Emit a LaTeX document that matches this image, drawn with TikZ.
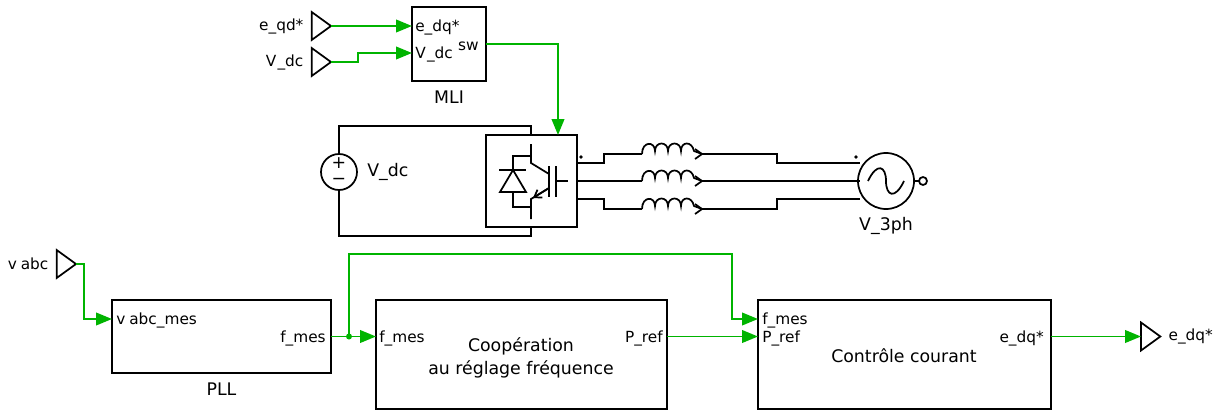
\documentclass[tikz,border=0pt]{standalone}
\usepackage{fontspec}
\setmainfont{DejaVu Sans}
\usepackage{tikz}
\usetikzlibrary{shapes,arrows.meta,positioning,calc}
\definecolor{wiregreen}{RGB}{0,180,0}
\tikzset{
    block/.style={draw,line width=1.3pt,outer sep=0pt,inner sep=0pt},
    gotag/.style={draw,line width=1.3pt,isosceles triangle,isosceles triangle stretches,shape border rotate=0,minimum width=21pt,minimum height=14.5pt,inner sep=0pt,outer sep=0pt},
    port/.style={font=\fontsize{11.5}{13}\selectfont,inner sep=0pt},
    caption/.style={font=\fontsize{13}{17.2}\selectfont,inner sep=0pt,align=center},
    sig/.style={draw=wiregreen,line width=1.4pt},
    sigarrow/.style={sig,-{Stealth[length=12pt,width=9.5pt,inset=0pt]}},
    power/.style={draw,line width=1.3pt},
}
\begin{document}
\begin{tikzpicture}[x=0.75pt,y=-0.75pt,node distance=6pt]
    \useasboundingbox (0,0) rectangle (1217,410);

    % MLI
    \node[block,minimum width=55.5pt,minimum height=55.5pt,anchor=north west] (mli) at (412,7) {};
    \node[gotag,anchor=apex] (eqd) at (331,26) {};
    \node[gotag,anchor=apex] (vdcin) at (331,62) {};
    \node[port,left=of eqd.west] (eqdlabel) {e\_qd*};
    \node[port,left=of vdcin.west] (vdclabel) {V\kern1pt\_dc};
    \coordinate (mlia) at (412,26);
    \coordinate (mlib) at (412,53);
    \coordinate (mlisw) at (486,44);
    \node[port,anchor=west] (mlialabel) at (415,27) {e\_dq*};
    \node[port,anchor=west] (mliblabel) at (415,54) {V\kern1pt\_dc};
    \node[port,anchor=east] (mliswlabel) at (479,46) {sw};
    \node[caption,below=7pt of mli] (mlilabel) {MLI};

    % Onduleur
    \node[block,minimum width=68.25pt,minimum height=69pt,anchor=north west] (inv) at (486,135) {};
    \node[circle,draw,line width=1.3pt,minimum size=27pt,inner sep=0pt,outer sep=0pt] (vsrc) at (339,172) {};
    \node[font=\fontsize{13}{14}\selectfont,inner sep=0pt] (plus) at (339,163) {+};
    \node[font=\fontsize{13}{14}\selectfont,inner sep=0pt] (minus) at (339,181) {−};
    \node[caption,right=7.5pt of vsrc] (vsrclabel) {V\_dc};
    \coordinate (invtop) at (531,135);
    \coordinate (invbot) at (531,227);
    \draw[power] (vsrc.north) |- (531,126) -- (invtop);
    \draw[power] (vsrc.south) |- (531,236) -- (invbot);

    % IGBT et diode
    \draw[power] (531,144) -- (531,163) -- (549,174);
    \draw[power] (549,166) -- (549,197);
    \draw[power] (556,166) -- (556,197);
    \draw[power] (556,181) -- (568,181);
    \draw[power] (549,188) -- (531,199) -- (531,219);
    \draw[line width=1.3pt,-{Straight Barb[length=5pt,width=7pt]}] (549,188) -- (533,198);
    \draw[power] (531,156) -- (513,156) -- (513,170);
    \draw[power] (499,170) -- (526,170);
    \draw[power,line join=miter] (513,170) -- (500,192) -- (526,192) -- cycle;
    \draw[power] (513,192) -- (513,207) -- (531,207);

    % Source triphasee
    \node[circle,draw,line width=1.3pt,minimum size=42pt,inner sep=0pt,outer sep=0pt] (grid) at (886,181) {};
    \node[circle,draw,line width=1.3pt,minimum size=6pt,inner sep=0pt,outer sep=0pt,right=3.75pt of grid] (gridpin) {};
    \draw[power] (grid) -- (gridpin);
    \draw[power] (868,181) .. controls (877,162) and (886,166) .. (886,181) .. controls (886,196) and (895,200) .. (904,181);
    \node[caption,below=6pt of grid] (gridlabel) {V\_3ph};
    \fill (581,157) circle[radius=1.8];
    \fill (856,157) circle[radius=1.8];

    % Phases
    \foreach \n/\yinv/\ycoil/\ygrid in {a/163/154/163,b/181/181/181,c/199/209/199}{
        \coordinate (coil\n in) at (642,\ycoil);
        \coordinate (coil\n out) at (702,\ycoil);
        \draw[power] (577,\yinv) -- (604,\yinv) -- (604,\ycoil) -- (coil\n in);
        \draw[power] (coil\n in) .. controls (642,\ycoil-13) and (655,\ycoil-13) .. (655,\ycoil-3)
            .. controls (655,\ycoil-13) and (668,\ycoil-13) .. (668,\ycoil-3)
            .. controls (668,\ycoil-13) and (681,\ycoil-13) .. (681,\ycoil-3)
            .. controls (681,\ycoil-13) and (692,\ycoil-13) .. (694,\ycoil-3) -- (coil\n out);
        \draw[power] (695,\ycoil-5) -- (coil\n out) -- (695,\ycoil+5);
        \draw[power] (coil\n out) -- (777,\ycoil) -- (777,\ygrid) -- (860,\ygrid);
    }

    % Signaux MLI
    \path[sigarrow] (eqd.apex) -- (mlia);
    \path[sigarrow] (vdcin.apex) -- (358,62) -- (358,53) -- (mlib);
    \path[sigarrow] (mlisw) -| (inv.north -| 558,135);

    % PLL et blocs
    \node[block,minimum width=164.25pt,minimum height=54.75pt,anchor=north west] (pll) at (112,300) {};
    \node[block,minimum width=218.25pt,minimum height=81.5pt,anchor=north west] (cooperation) at (376,300) {};
    \node[block,minimum width=219.75pt,minimum height=81.5pt,anchor=north west] (courant) at (758,300) {};
    \node[caption,below=7pt of pll] (plllabel) {PLL};
    \node[caption] (cooperationlabel) at (521,357.5) {Coopération\\au réglage fréquence};
    \node[caption] (courantlabel) at (904,356) {Contrôle courant};

    \node[port,anchor=west] (plla) at (116,320) {v\kern3pt abc\_mes};
    \node[port,anchor=east] (pllb) at (326,338) {f\_mes};
    \node[port,anchor=west] (coopa) at (379,338) {f\_mes};
    \node[port,anchor=east] (coopb) at (663,338) {P\_ref};
    \node[port,anchor=west] (couranta) at (762,320) {f\_mes};
    \node[port,anchor=west] (courantb) at (762,338) {P\_ref};
    \node[port,anchor=east] (courantc) at (1044,338) {e\_dq*};

    \node[gotag,anchor=apex] (vabc) at (76,264) {};
    \node[port,left=of vabc.west] (vabclabel) {v\kern3pt abc};
    \node[gotag,anchor=west] (edq) at (1141,336.5) {};
    \node[port,right=6pt of edq.apex] (edqlabel) {e\_dq*};

    \coordinate (pllin) at (112,319);
    \coordinate (courantf) at (758,319);
    \coordinate (split) at (349,336.5);
    \coordinate (coopin) at (376,336.5);
    \coordinate (coopout) at (667,336.5);
    \coordinate (courantp) at (758,336.5);
    \coordinate (courantout) at (1051,336.5);
    \path[sigarrow] (vabc.apex) -- (84,264) -- (84,319) -- (pllin);
    \path[sigarrow] (pll.east) -- (coopin);
    \path[sigarrow] (split) -- (349,254) -- (732,254) -- (732,319) -- (courantf);
    \path[sigarrow] (coopout) -- (courantp);
    \path[sigarrow] (courantout) -- (edq.west);
    \fill[wiregreen] (split) circle[radius=3];
\end{tikzpicture}
\end{document}
